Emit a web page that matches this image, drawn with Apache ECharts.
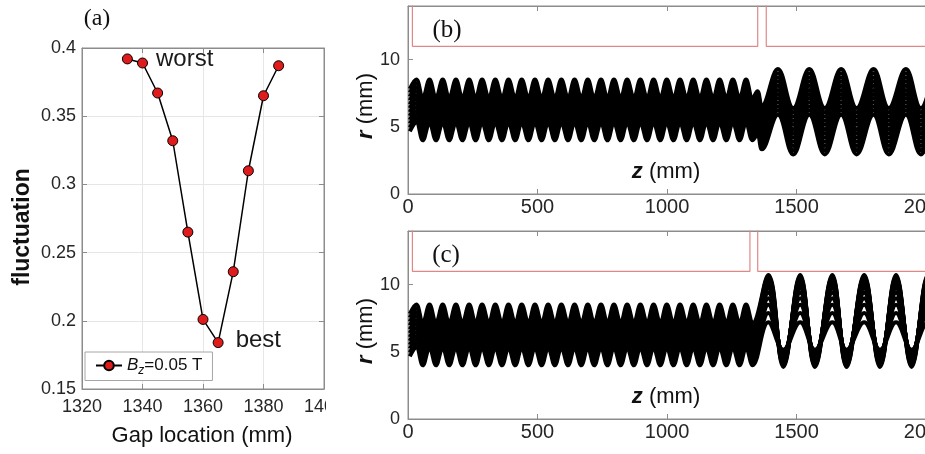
<!DOCTYPE html>
<html>
<head>
<meta charset="utf-8">
<script src="https://cdn.jsdelivr.net/npm/echarts@6/dist/echarts.min.js"></script>
<style>
html, body { margin: 0; padding: 0; background: #fff; }
#chart { width: 925px; height: 454px; }
</style>
</head>
<body>
<div id="chart"></div>
<script>
"use strict";

// ---- (a) fluctuation vs gap location ----
var gapLocation = [1335, 1340, 1345, 1350, 1355, 1360, 1365, 1370, 1375, 1380, 1385];
var fluctuation = [0.392, 0.389, 0.367, 0.332, 0.265, 0.201, 0.184, 0.236, 0.310, 0.365, 0.387];
var notes = {1340: "worst", 1365: "best"};

// ---- (b)/(c) trajectory extrema positions along z (mm) ----
var zStart = [7];
var zPeak1 = [32, 83, 134, 185, 236, 286, 337, 388, 439, 490, 541, 592, 643, 694, 745, 795, 846, 897, 948, 999, 1050, 1101, 1152, 1203, 1254, 1305];
var zTrough1 = [57, 108, 159, 210, 261, 312, 363, 414, 465, 516, 567, 618, 669, 719, 770, 821, 872, 923, 974, 1025, 1076, 1127, 1178, 1229, 1280, 1330];
var zPeakTB = [1349];
var zTroughTB = [1366];
var zPeak2B = [1428, 1549, 1672, 1797, 1922, 2046];
var zTrough2B = [1487, 1609, 1732, 1856, 1980, 2104];
var zPeak2C = [1391, 1514, 1638, 1761, 1884, 2007, 2130];
var zTrough2C = [1449, 1571, 1693, 1822, 1944, 2067];

// radius (mm) of each traced orbit at its extrema
var hi1 = [8.52, 8.23, 7.94, 7.65, 7.36, 7.07, 6.77, 6.48, 6.19, 5.90, 5.61, 5.32];
var lo1 = [7.14, 6.85, 6.57, 6.28, 6.00, 5.71, 5.43, 5.14, 4.86, 4.57, 4.29, 4.00];
var bHiT = [7.65, 7.36, 7.07, 6.78, 6.49, 6.20, 5.91, 5.62, 5.33, 5.04, 4.75, 4.45];
var bLoT = [6.55, 6.26, 5.96, 5.67, 5.38, 5.09, 4.79, 4.50, 4.21, 3.92, 3.62, 3.33];
var bHi2 = [9.30, 8.99, 8.68, 8.37, 8.06, 7.75, 7.45, 7.14, 6.83, 6.52, 6.21, 5.90];
var bLo2 = [6.40, 6.09, 5.77, 5.46, 5.15, 4.83, 4.52, 4.21, 3.89, 3.58, 3.26, 2.95];
var cHi2 = [10.72, 10.62, 10.50, 10.36, 10.19, 9.98, 9.72, 9.40, 9.00, 8.50, 7.90, 7.20];
var cLo2 = [3.88, 3.99, 4.10, 4.22, 4.34, 4.46, 4.58, 4.70, 4.82, 4.94, 5.06, 5.15];

// electrode outline (red)
var redB1 = [[17, 15], [17, 11], [1350, 11], [1350, 15]];
var redB2 = [[1383, 15], [1383, 11], [2100, 11]];
var redC1 = [[17, 15], [17, 11], [1320, 11], [1320, 15]];
var redC2 = [[1350, 15], [1350, 11], [2100, 11]];

var xTicksRight = [0, 500, 1000, 1500, 2000];

var font = "Liberation Sans";
var txt = "#262626";
var axisGray = "#8c8c8c";

function orbitLine(parts) {
    var pts = [];
    parts.forEach(function (p) {
        p[0].forEach(function (z) {
            pts.push([z, p[1]]);
        });
    });
    pts.sort(function (a, b) { return a[0] - b[0]; });
    return pts;
}

function trajSeries(xi, yi, data) {
    return {
        type: "line", xAxisIndex: xi, yAxisIndex: yi, data: data,
        smooth: 0.4, symbol: "none", silent: true, z: 2,
        lineStyle: {color: "#000", width: 4}
    };
}

function redSeries(xi, yi, data) {
    return {
        type: "line", xAxisIndex: xi, yAxisIndex: yi, data: data,
        symbol: "none", silent: true, z: 1,
        lineStyle: {color: "#e08888", width: 1.2}
    };
}

var series = [];

series.push({
    name: "Bz",
    type: "line",
    xAxisIndex: 0, yAxisIndex: 0,
    data: gapLocation.map(function (g, i) {
        var item = {value: [g, fluctuation[i]]};
        if (notes[g] === "worst") {
            item.label = {show: true, formatter: "worst", position: "right", distance: 8, offset: [0, -4]};
        } else if (notes[g] === "best") {
            item.label = {show: true, formatter: "best", position: "right", distance: 12, offset: [0, -2]};
        }
        return item;
    }),
    symbol: "circle",
    symbolSize: 10,
    itemStyle: {color: "#e01b1b", borderColor: "#000", borderWidth: 1},
    lineStyle: {color: "#000", width: 1.5},
    label: {fontFamily: font, fontSize: 24, color: "#1a1a1a"},
    z: 3
});

hi1.forEach(function (h, i) {
    var start = (hi1[i] + lo1[i]) / 2;
    series.push(trajSeries(2, 2, orbitLine([
        [zStart, start], [zPeak1, hi1[i]], [zTrough1, lo1[i]],
        [zPeakTB, bHiT[i]], [zTroughTB, bLoT[i]],
        [zPeak2B, bHi2[i]], [zTrough2B, bLo2[i]]
    ])));
    series.push(trajSeries(4, 3, orbitLine([
        [zStart, start], [zPeak1, hi1[i]], [zTrough1, lo1[i]],
        [zPeak2C, cHi2[i]], [zTrough2C, cLo2[i]]
    ])));
});

series.push(redSeries(2, 2, redB1));
series.push(redSeries(2, 2, redB2));
series.push(redSeries(4, 3, redC1));
series.push(redSeries(4, 3, redC2));

function rightXAxis(gi, pos) {
    var ax = {
        type: "value", gridIndex: gi, position: pos, min: 0, max: 2100, interval: 500,
        axisLine: {show: true, onZero: false, lineStyle: {color: axisGray, width: 1}},
        axisTick: {show: true, inside: true, length: 5, lineStyle: {color: axisGray}},
        splitLine: {show: false},
        axisLabel: {show: false}
    };
    if (pos === "bottom") {
        ax.axisLabel = {
            show: true, margin: 3, fontFamily: font, fontSize: 20, color: txt,
            formatter: function (v) { return xTicksRight.indexOf(v) >= 0 ? String(v) : ""; }
        };
    }
    return ax;
}

function rightYAxis(gi) {
    return {
        type: "value", gridIndex: gi, min: 0, max: 14, interval: 5,
        axisLine: {show: true, onZero: false, lineStyle: {color: axisGray, width: 1}},
        axisTick: {show: true, inside: true, length: 5, lineStyle: {color: axisGray}},
        splitLine: {show: false},
        axisLabel: {
            margin: 8, fontFamily: font, fontSize: 18, color: txt,
            formatter: function (v) { return v % 5 === 0 ? String(v) : ""; }
        }
    };
}

function rText(x, y) {
    return {
        type: "text", x: x, y: y, rotation: Math.PI / 2,
        style: {
            text: "{b|r} (mm)", fill: "#111", font: "22px " + font,
            align: "center", verticalAlign: "middle",
            rich: {b: {fontWeight: "bold", fontStyle: "italic", fontSize: 22, fontFamily: font, fill: "#111"}}
        }
    };
}

function zText(x, y) {
    return {
        type: "text", x: x, y: y,
        style: {
            text: "{b|z} (mm)", fill: "#111", font: "22px " + font,
            align: "center", verticalAlign: "middle",
            rich: {b: {fontWeight: "bold", fontStyle: "italic", fontSize: 22, fontFamily: font, fill: "#111"}}
        }
    };
}

function tag(text, x, y) {
    return {
        type: "text", x: x, y: y,
        style: {text: text, fill: "#111", font: "25px 'Liberation Serif'", align: "center", verticalAlign: "middle"}
    };
}

var option = {
    backgroundColor: "#fff",
    animation: false,
    grid: [
        {left: 82, top: 48, width: 242, height: 341, show: true, borderColor: axisGray, borderWidth: 1, outerBoundsMode: "none"},
        {left: 408, top: 6, width: 544, height: 188, show: true, borderColor: axisGray, borderWidth: 1, outerBoundsMode: "none"},
        {left: 408, top: 231, width: 544, height: 188, show: true, borderColor: axisGray, borderWidth: 1, outerBoundsMode: "none"}
    ],
    xAxis: [
        {
            type: "value", gridIndex: 0, min: 1320, max: 1400, interval: 20,
            axisLine: {show: true, onZero: false, lineStyle: {color: axisGray}},
            axisTick: {show: true, inside: true, length: 5, lineStyle: {color: axisGray}},
            splitLine: {show: true, lineStyle: {color: "#e6e6e6", width: 1}},
            axisLabel: {margin: 9, fontFamily: font, fontSize: 18, color: txt,
                formatter: function (v) { return String(v); }}
        },
        {
            type: "value", gridIndex: 0, position: "top", min: 1320, max: 1400, interval: 20,
            axisLine: {show: true, onZero: false, lineStyle: {color: axisGray}},
            axisTick: {show: true, inside: true, length: 5, lineStyle: {color: axisGray}},
            splitLine: {show: false}, axisLabel: {show: false}
        },
        rightXAxis(1, "bottom"),
        rightXAxis(1, "top"),
        rightXAxis(2, "bottom"),
        rightXAxis(2, "top")
    ],
    yAxis: [
        {
            type: "value", gridIndex: 0, min: 0.15, max: 0.4, interval: 0.05,
            axisLine: {show: true, onZero: false, lineStyle: {color: axisGray}},
            axisTick: {show: true, inside: true, length: 5, lineStyle: {color: axisGray}},
            splitLine: {show: true, lineStyle: {color: "#e6e6e6", width: 1}},
            axisLabel: {margin: 6, fontFamily: font, fontSize: 18, color: txt}
        },
        {
            type: "value", gridIndex: 0, position: "right", min: 0.15, max: 0.4, interval: 0.05,
            axisLine: {show: true, onZero: false, lineStyle: {color: axisGray}},
            axisTick: {show: true, inside: true, length: 5, lineStyle: {color: axisGray}},
            splitLine: {show: false}, axisLabel: {show: false}
        },
        rightYAxis(1),
        rightYAxis(2)
    ],
    legend: {
        left: 85, top: 352,
        orient: "vertical",
        selectedMode: false,
        backgroundColor: "#fff",
        borderColor: "#a6a6a6", borderWidth: 1, borderRadius: 0,
        padding: [5, 10, 4, 10],
        itemWidth: 26, itemHeight: 12, itemGap: 0,
        data: ["Bz"],
        formatter: function () { return "{i|B}{s|z}{n|=0.05 T}"; },
        textStyle: {
            color: "#111",
            rich: {
                i: {fontFamily: font, fontSize: 17, fontStyle: "italic", lineHeight: 22},
                s: {fontFamily: font, fontSize: 12, fontStyle: "italic", lineHeight: 13, verticalAlign: "bottom"},
                n: {fontFamily: font, fontSize: 17, lineHeight: 22}
            }
        }
    },
    graphic: [
        {type: "rect", shape: {x: 326, y: 397, width: 28, height: 26}, style: {fill: "#fff"}, z: 100},
        {type: "text", x: 97, y: 19, style: {text: "(a)", fill: "#111", font: "24px 'Liberation Serif'", align: "center", verticalAlign: "middle"}},
        {type: "text", x: 23, y: 227, rotation: Math.PI / 2, style: {text: "fluctuation", fill: "#111", font: "bold 23px " + font, align: "center", verticalAlign: "middle"}},
        {type: "text", x: 202, y: 436, style: {text: "Gap location (mm)", fill: "#111", font: "22px " + font, align: "center", verticalAlign: "middle"}},
        tag("(b)", 447, 30),
        tag("(c)", 446, 255),
        rText(366, 106),
        rText(366, 331),
        zText(666, 172),
        zText(666, 397)
    ],
    series: series
};

var chart = echarts.init(document.getElementById("chart"));
chart.setOption(option);
</script>
</body>
</html>
